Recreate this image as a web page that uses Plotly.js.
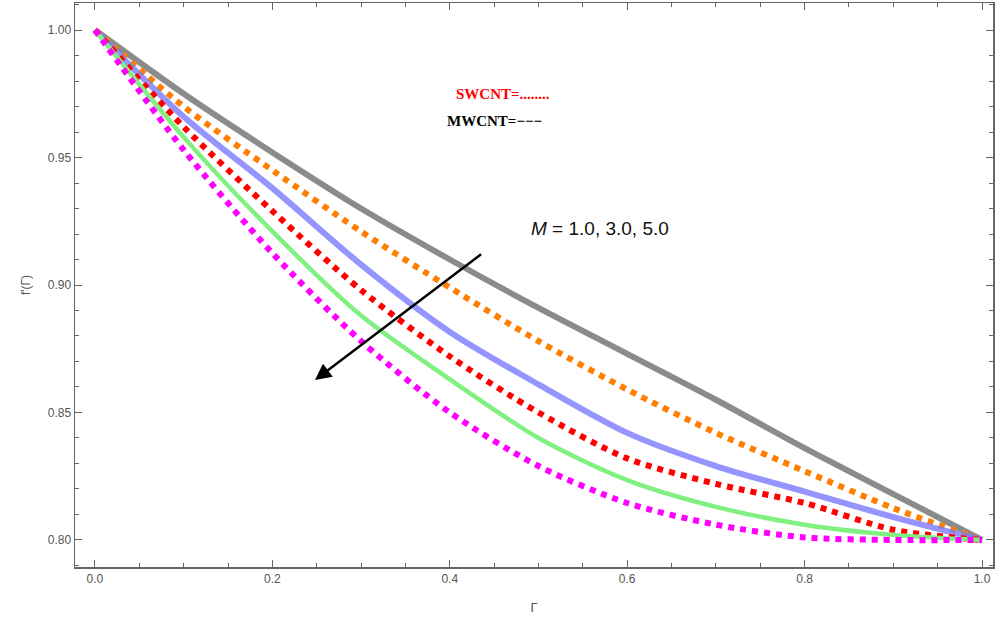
<!DOCTYPE html>
<html>
<head>
<meta charset="utf-8">
<script src="https://cdn.plot.ly/plotly-3.0.1.min.js"></script>
<style>html,body{margin:0;padding:0;background:#fff}#chart{width:1000px;height:633px}</style>
</head>
<body>
<div id="chart"></div>
<script>
// ─── data ───
const gam = [0, 0.1, 0.2, 0.3, 0.4, 0.5, 0.6, 0.7, 0.8, 0.9, 1.0];
const grayM = [1, 0.975, 0.952, 0.930, 0.910, 0.891, 0.873, 0.855, 0.836, 0.818, 0.8];
const orangeS = [1, 0.970, 0.945, 0.921, 0.899, 0.878, 0.859, 0.842, 0.827, 0.8125, 0.8];
const blueM = [1, 0.966, 0.938, 0.908, 0.8816, 0.861, 0.842, 0.829, 0.819, 0.809, 0.8];
const redS = [1, 0.962, 0.929, 0.898, 0.872, 0.850, 0.832, 0.822, 0.8145, 0.804, 0.8];
const greenM = [1, 0.958, 0.921, 0.888, 0.863, 0.840, 0.8235, 0.813, 0.806, 0.802, 0.8];
const magentaS = [1, 0.953, 0.9125, 0.878, 0.850, 0.829, 0.8145, 0.806, 0.801, 0.8, 0.8];

const mk = (y, color, width, dash, opacity) => ({
  x: gam, y, mode: "lines", type: "scatter",
  line: { color, width, dash, shape: "spline", smoothing: 0.8 },
  opacity: opacity ?? 1,
  hoverinfo: "skip",
});

const traces = [
  mk(grayM, "#777", 6, "solid", 0.85),
  mk(orangeS, "#ff7f00", 6, "dot"),
  mk(blueM, "#7a7aff", 6, "solid", 0.8),
  mk(redS, "#ff0000", 6, "dot"),
  mk(greenM, "#80f080", 4.5, "solid"),
  mk(magentaS, "#ff00ff", 6, "dot"),
];

const tickFont = { family: "Arial", size: 12, color: "#555" };
const axisBase = {
  showline: true, mirror: "allticks", linecolor: "#666", linewidth: 1.5,
  ticks: "inside", ticklen: 7, tickcolor: "#666", showgrid: false,
  zeroline: false, tickfont: tickFont,
};

const layout = {
  width: 1000, height: 633,
  paper_bgcolor: "#fff", plot_bgcolor: "#fff",
  margin: { l: 75, r: 7, t: 3, b: 66 },
  showlegend: false,
  xaxis: Object.assign({}, axisBase, {
    range: [-0.0225, 1.0124], tickvals: [0, 0.2, 0.4, 0.6, 0.8, 1.0],
    ticktext: ["0.0", "0.2", "0.4", "0.6", "0.8", "1.0"],
    minor: { dtick: 0.05, ticks: "inside", ticklen: 4, tickcolor: "#666" },
    title: { text: "Γ", font: { family: "Arial", size: 13, color: "#555" }, standoff: 18 },
  }),
  yaxis: Object.assign({}, axisBase, {
    range: [0.7894, 1.0106], tickvals: [0.8, 0.85, 0.9, 0.95, 1.0],
    ticktext: ["0.80", "0.85", "0.90", "0.95", "1.00"],
    minor: { dtick: 0.01, ticks: "inside", ticklen: 4, tickcolor: "#666" },
    title: { text: "f'(Γ)", font: { family: "Arial", size: 12, color: "#555" }, standoff: 14 },
  }),
  annotations: [
    {
      x: 0.248, y: 0.8627, ax: 0.437, ay: 0.9125, xref: "x", yref: "y", axref: "x", ayref: "y",
      showarrow: true, arrowhead: 2, arrowsize: 1.3, arrowwidth: 2.5, arrowcolor: "#000", text: "",
    },
    {
      x: 0.569, y: 0.922, xref: "x", yref: "y", showarrow: false,
      text: "<i>M</i> = 1.0, 3.0, 5.0",
      font: { family: "Arial", size: 19, color: "#111" },
    },
    {
      x: 0.405, y: 0.975, xref: "x", yref: "y", showarrow: false, xanchor: "left",
      text: "<b>SWCNT=........</b>",
      font: { family: "Liberation Serif", size: 15, color: "#ff0000" },
    },
    {
      x: 0.395, y: 0.9645, xref: "x", yref: "y", showarrow: false, xanchor: "left",
      text: "<b>MWCNT=−−−</b>",
      font: { family: "Liberation Serif", size: 15, color: "#000" },
    },
  ],
};

Plotly.newPlot("chart", traces, layout, { displayModeBar: false, staticPlot: true });
</script>
</body>
</html>
